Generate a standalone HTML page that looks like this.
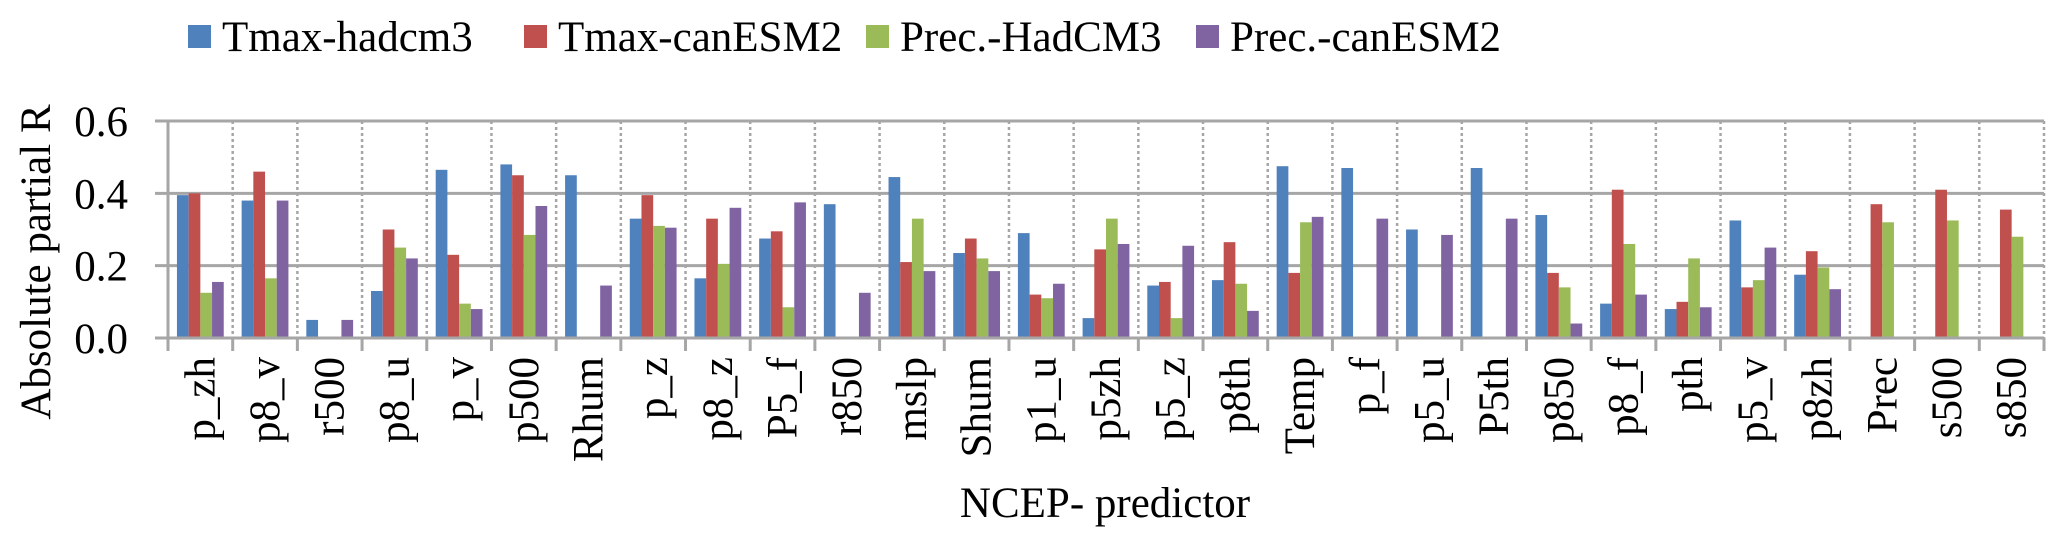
<!DOCTYPE html>
<html><head><meta charset="utf-8"><style>
html,body{margin:0;padding:0;background:#fff;}
svg{display:block;}
text{font-family:"Liberation Serif",serif;}
</style></head><body>
<svg id="chart" width="2067" height="543" viewBox="0 0 2067 543" xmlns="http://www.w3.org/2000/svg" font-family="Liberation Serif, serif">
<g id="legend"></g>
<g id="grid"></g>
<g id="bars"></g>
<g id="axes"></g>
<text x="0" y="0" font-family="Liberation Serif, serif" font-size="43" text-anchor="middle" transform="translate(50,262) rotate(-90)">Absolute partial R</text>
<text x="1105" y="517" font-family="Liberation Serif, serif" font-size="43" text-anchor="middle">NCEP- predictor</text>
</svg>
<script>
const categories = ["p_zh","p8_v","r500","p8_u","p_v","p500","Rhum","p_z","p8_z","P5_f","r850","mslp","Shum","p1_u","p5zh","p5_z","p8th","Temp","p_f","p5_u","P5th","p850","p8_f","pth","p5_v","p8zh","Prec","s500","s850"];
const seriesNames = ["Tmax-hadcm3","Tmax-canESM2","Prec.-HadCM3","Prec.-canESM2"];
const tmaxHadcm3 = [0.395,0.38,0.05,0.13,0.465,0.48,0.45,0.33,0.165,0.275,0.37,0.445,0.235,0.29,0.055,0.145,0.16,0.475,0.47,0.30,0.47,0.34,0.095,0.08,0.325,0.175,0,0,0];
const tmaxCanESM2 = [0.40,0.46,0,0.30,0.23,0.45,0,0.395,0.33,0.295,0,0.21,0.275,0.12,0.245,0.155,0.265,0.18,0,0,0,0.18,0.41,0.10,0.14,0.24,0.37,0.41,0.355];
const precHadCM3 = [0.125,0.165,0,0.25,0.095,0.285,0,0.31,0.205,0.085,0,0.33,0.22,0.11,0.33,0.055,0.15,0.32,0,0,0,0.14,0.26,0.22,0.16,0.195,0.32,0.325,0.28];
const precCanESM2 = [0.155,0.38,0.05,0.22,0.08,0.365,0.145,0.305,0.36,0.375,0.125,0.185,0.185,0.15,0.26,0.255,0.075,0.335,0.33,0.285,0.33,0.04,0.12,0.085,0.25,0.135,0,0,0];
const yTicks = [0.0,0.2,0.4,0.6];
const yTickLabels = ["0.0","0.2","0.4","0.6"];

const colors = ["#4f81bd","#c0504d","#9bbb59","#8064a2"];
const series = [tmaxHadcm3,tmaxCanESM2,precHadCM3,precCanESM2];
const NS="http://www.w3.org/2000/svg";
const FF="Liberation Serif, serif";
const X0=168, X1=2044, Y0=338, Ymax=0.6, YTOP=121;
const cw=(X1-X0)/categories.length;
function xScale(i){return X0+i*cw;}
function yScale(v){return Y0-(v/Ymax)*(Y0-YTOP);}
function mk(tag,attrs,parent){const e=document.createElementNS(NS,tag);for(const k in attrs)e.setAttribute(k,attrs[k]);parent.appendChild(e);return e;}
const grid=document.getElementById('grid'),bars=document.getElementById('bars'),axes=document.getElementById('axes'),legend=document.getElementById('legend');
yTicks.forEach((t,i)=>{
  const y=yScale(t);
  const l=mk('line',{x1:155,x2:X1,y1:y,y2:y,stroke:'#a6a6a6','stroke-width':3},grid);
  
  
  const tx=mk('text',{x:128,y:y+15,'font-size':43,'text-anchor':'end','font-family':FF},axes);
  tx.textContent=yTickLabels[i];
  
  
});
for(let i=1;i<=categories.length;i++){
  const x=xScale(i);
  const l=mk('line',{x1:x,x2:x,y1:YTOP,y2:Y0,stroke:'#a6a6a6','stroke-width':2.5,'stroke-dasharray':'3,3'},grid);
  
  
}
const bw=11.7, goff=(cw-4*bw)/2;
categories.forEach((c,i)=>{
  series.forEach((s,k)=>{
    const v=s[i]; if(!v) return;
    const y=yScale(v);
    const r=mk('rect',{x:xScale(i)+goff+k*bw,y:y,width:bw,height:Y0-y,fill:colors[k]},bars);
    
    
  });
  const tx=mk('text',{x:0,y:0,'font-size':43,'text-anchor':'end','font-family':FF,transform:`translate(${xScale(i)+cw/2+14},357) rotate(-90)`},axes);
  tx.textContent=c;
  
  
});
const ax=mk('line',{x1:X0,x2:X0,y1:YTOP,y2:Y0+13,stroke:'#a6a6a6','stroke-width':3},axes);


const xa=mk('line',{x1:155,x2:X1,y1:Y0,y2:Y0,stroke:'#a6a6a6','stroke-width':3},axes);


for(let i=1;i<=categories.length;i++){
  const t=mk('line',{x1:xScale(i),x2:xScale(i),y1:Y0,y2:Y0+13,stroke:'#a6a6a6','stroke-width':3},axes);
  
  
}
const lx=[188,524,866,1196];
seriesNames.forEach((n,k)=>{
  const g=mk('g',{},legend);
  
  
  mk('rect',{x:lx[k],y:25,width:23,height:23,fill:colors[k]},g);
  const t=mk('text',{x:lx[k]+34,y:51,'font-size':43,'font-family':FF},g);
  t.textContent=n;
});
</script>
</body></html>
